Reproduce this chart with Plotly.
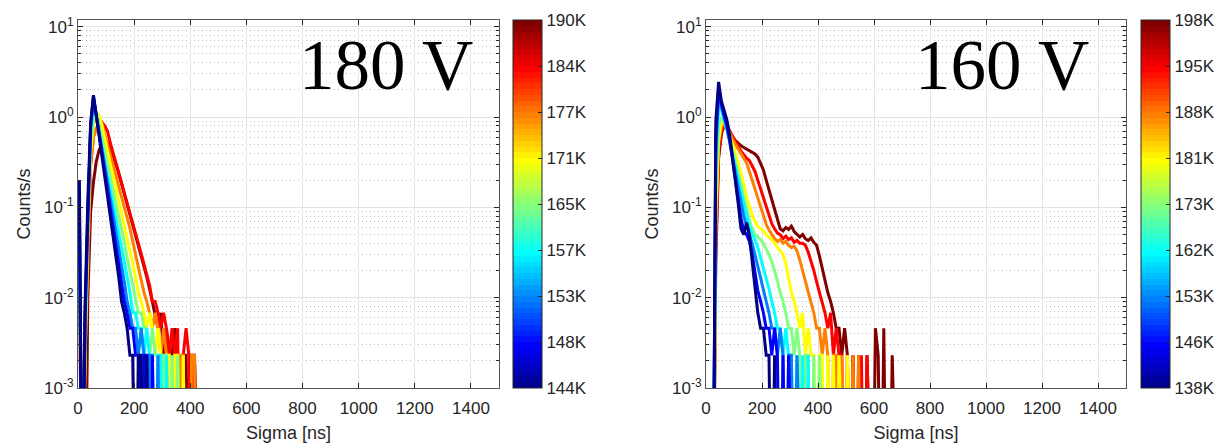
import numpy as np
import plotly.graph_objects as go

# ---------------------------------------------------------------------------
# Sigma histograms (counts/s per 10 ns bin), one curve per count rate.
# Bin k is centred at 5 + 10*k ns; bins not listed are empty.
# ---------------------------------------------------------------------------
BIN_WIDTH = 10.0
N_BINS = 150
sigma = np.arange(N_BINS) * BIN_WIDTH + BIN_WIDTH / 2

# ---- 180 V -----------------------------------------------------------------
rates_180 = ["144K", "148K", "153K", "157K", "165K", "171K", "177K", "184K", "190K"]

h180_144K = [0.2, 0, 0.008, 0.12, 0.85, 1.75, 1.05, 0.63, 0.37, 0.22, 0.134, 0.08, 0.048,
             0.029, 0.017, 0.0091, 0.0068, 0.0046, 0.0023, 0.0023, 0, 0.0023, 0.0023, 0, 0.0023]
h180_148K = [0.12, 0, 0.006, 0.1, 0.8, 1.7, 1.06, 0.67, 0.42, 0.26, 0.164, 0.103, 0.064, 0.04,
             0.025, 0.016, 0.0091, 0.0068, 0.0046, 0.0046, 0.0023, 0.0023, 0, 0.0023, 0.0023,
             0, 0.0023]
h180_153K = [0.09, 0, 0.005, 0.09, 0.75, 1.6, 1.05, 0.69, 0.455, 0.30, 0.197, 0.129, 0.085,
             0.056, 0.036, 0.023, 0.015, 0.0091, 0.0068, 0.0046, 0.0046, 0.0023, 0.0046,
             0.0023, 0, 0.0023, 0.0023, 0, 0.0023]
h180_157K = [0.07, 0, 0.004, 0.08, 0.65, 1.4, 0.98, 0.685, 0.48, 0.336, 0.235, 0.164, 0.115,
             0.08, 0.056, 0.038, 0.025, 0.017, 0.0114, 0.0068, 0.0068, 0.0046, 0.0046, 0.0023,
             0.0046, 0.0023, 0.0023, 0, 0.0023, 0.0023, 0, 0.0023]
h180_165K = [0.06, 0, 0.003, 0.06, 0.5, 1.0, 1.15, 0.83, 0.60, 0.43, 0.31, 0.223, 0.16, 0.115,
             0.083, 0.06, 0.041, 0.028, 0.0195, 0.0137, 0.0091, 0.0068, 0.0068, 0.0046, 0.0046,
             0.0023, 0.0046, 0.0023, 0.0023, 0, 0.0023, 0.0023, 0, 0.0023, 0, 0.0023]
h180_171K = [0.05, 0, 0.002, 0.05, 0.4, 0.85, 1.0, 1.05, 0.82, 0.566, 0.416, 0.305, 0.224,
             0.165, 0.121, 0.089, 0.065, 0.047, 0.034, 0.024, 0.017, 0.0114, 0.0091, 0.0068,
             0.0046, 0.0068, 0.0046, 0.0023, 0.0046, 0.0023, 0, 0.0023, 0.0023, 0, 0.0023,
             0.0023, 0, 0.0023]
h180_177K = [0.03, 0, 0.002, 0.03, 0.3, 0.6, 0.75, 0.84, 0.85, 0.65, 0.50, 0.38, 0.29, 0.224,
             0.171, 0.131, 0.10, 0.077, 0.059, 0.042, 0.030, 0.0216, 0.0154, 0.0114, 0.0091,
             0.0068, 0.0046, 0.0068, 0.0046, 0.0023, 0.0046, 0.0023, 0.0023, 0, 0.0023, 0,
             0.0023, 0.0023, 0, 0, 0.0023, 0.0023]
h180_184K = [0.02, 0, 0.002, 0.02, 0.3, 0.6, 0.75, 0.82, 0.88, 0.80, 0.70, 0.52, 0.40, 0.31,
             0.245, 0.19, 0.145, 0.112, 0.087, 0.067, 0.052, 0.04, 0.031, 0.024, 0.018, 0.0137,
             0.0091, 0.0091, 0.0068, 0.0046, 0.0068, 0.0046, 0.0023, 0.0046, 0.0023, 0.0046, 0,
             0.0023, 0.0046, 0.0023, 0, 0.0023]
h180_190K = [0.015, 0, 0, 0.01, 0.09, 0.19, 0.32, 0.43, 0.5, 0.53, 0.52, 0.46, 0.38, 0.3, 0.24,
             0.185, 0.14, 0.108, 0.083, 0.064, 0.049, 0.038, 0.03, 0.023, 0.017, 0.0125, 0.0091,
             0.0068, 0.0046, 0.0068, 0.0023, 0.0046, 0.0023, 0.0023, 0.0046, 0.0023, 0, 0.0023,
             0.0023, 0, 0.0023, 0.0023]

hist_180 = [h180_144K, h180_148K, h180_153K, h180_157K, h180_165K,
            h180_171K, h180_177K, h180_184K, h180_190K]

# ---- 160 V -----------------------------------------------------------------
rates_160 = ["138K", "146K", "153K", "162K", "173K", "181K", "188K", "195K", "198K"]

h160_138K = [0, 0, 0, 0.9, 2.45, 1.5, 1.15, 0.92, 0.62, 0.36, 0.2, 0.11, 0.058, 0.05, 0.068,
             0.05, 0.025, 0.0125, 0.0068, 0.0046, 0.0046, 0.0023, 0.0023, 0, 0.0023]
h160_146K = [0, 0, 0, 0.6, 2.1, 1.4, 1.05, 0.8, 0.55, 0.34, 0.2, 0.12, 0.075, 0.055, 0.05,
             0.042, 0.03, 0.019, 0.012, 0.0091, 0.0068, 0.0046, 0.0046, 0.0023, 0.0046, 0.0023,
             0, 0.0023, 0, 0.0023]
h160_153K = [0, 0, 0, 0.45, 1.7, 1.3, 1.0, 0.75, 0.52, 0.36, 0.24, 0.16, 0.11, 0.08, 0.062,
             0.05, 0.04, 0.03, 0.022, 0.016, 0.0114, 0.0091, 0.0068, 0.0046, 0.0046, 0.0023,
             0.0046, 0.0023, 0, 0.0023, 0.0023, 0, 0.0023]
h160_162K = [0, 0, 0, 0.3, 1.3, 1.2, 0.95, 0.72, 0.54, 0.4, 0.29, 0.21, 0.15, 0.11, 0.08, 0.062,
             0.05, 0.044, 0.036, 0.028, 0.021, 0.016, 0.0125, 0.0091, 0.0068, 0.0046, 0.0046,
             0.0023, 0.0046, 0.0023, 0.0023, 0, 0.0023, 0, 0.0023, 0, 0.0023]
h160_173K = [0, 0, 0, 0.15, 0.8, 1.0, 0.9, 0.72, 0.55, 0.42, 0.32, 0.24, 0.18, 0.13, 0.095,
             0.072, 0.058, 0.05, 0.047, 0.044, 0.04, 0.035, 0.03, 0.025, 0.02, 0.0155, 0.0114,
             0.0091, 0.0068, 0.0046, 0.0046, 0.0023, 0.0046, 0.0023, 0, 0.0023, 0.0023, 0,
             0.0023, 0, 0.0023]
h160_181K = [0, 0, 0, 0.087, 0.55, 0.9, 0.88, 0.76, 0.62, 0.5, 0.4, 0.31, 0.24, 0.18, 0.13, 0.1,
             0.082, 0.07, 0.062, 0.058, 0.055, 0.05, 0.047, 0.044, 0.04, 0.036, 0.033, 0.03,
             0.024, 0.017, 0.0114, 0.0091, 0.0068, 0.0046, 0.0068, 0.0023, 0.0046, 0.0023,
             0.0023, 0, 0.0023, 0.0023, 0, 0.0023, 0, 0.0023, 0, 0.0023, 0, 0, 0.0023]
h160_188K = [0, 0, 0, 0.06, 0.5, 0.78, 0.85, 0.78, 0.66, 0.57, 0.5, 0.44, 0.39, 0.35, 0.31, 0.25,
             0.2, 0.165, 0.13, 0.1, 0.08, 0.065, 0.056, 0.05, 0.045, 0.042, 0.044, 0.04, 0.042,
             0.038, 0.036, 0.037, 0.033, 0.026, 0.02, 0.015, 0.0114, 0.0091, 0.0068, 0.0046,
             0.0046, 0.0023, 0.0046, 0.0023, 0, 0.0023, 0.0023, 0, 0.0023, 0, 0.0023, 0,
             0.0023, 0, 0.0023]
h160_195K = [0, 0, 0, 0.04, 0.4, 0.7, 0.82, 0.8, 0.7, 0.6, 0.53, 0.47, 0.42, 0.38, 0.35, 0.33,
             0.29, 0.25, 0.2, 0.16, 0.125, 0.1, 0.08, 0.066, 0.058, 0.052, 0.05, 0.045, 0.048,
             0.044, 0.046, 0.041, 0.043, 0.04, 0.04, 0.038, 0.032, 0.026, 0.02, 0.015, 0.0114,
             0.0091, 0.0068, 0.0046, 0.0068, 0.0023, 0.0046, 0.0023, 0.0023, 0, 0.0023, 0,
             0.0023, 0, 0, 0.0023, 0, 0.0023]
h160_198K = [0, 0, 0, 0.026, 0.35, 0.65, 0.82, 0.78, 0.68, 0.6, 0.55, 0.51, 0.48, 0.46, 0.44,
             0.42, 0.41, 0.39, 0.36, 0.31, 0.26, 0.2, 0.155, 0.12, 0.09, 0.07, 0.058, 0.055,
             0.06, 0.057, 0.062, 0.054, 0.05, 0.047, 0.05, 0.045, 0.043, 0.046, 0.041, 0.038,
             0.029, 0.021, 0.015, 0.0114, 0.0091, 0.0068, 0.0046, 0.0046, 0.0023, 0.0046,
             0.0023, 0, 0.0023, 0, 0.0023, 0, 0, 0.0023, 0, 0, 0.0046, 0.0023, 0, 0.0046, 0, 0,
             0.0023]

hist_160 = [h160_138K, h160_146K, h160_153K, h160_162K, h160_173K,
            h160_181K, h160_188K, h160_195K, h160_198K]

panel_labels = ["180 V", "160 V"]

# ---------------------------------------------------------------------------
# Styling
# ---------------------------------------------------------------------------
W, H = 1226, 446
ZERO_FLOOR = 1e-5          # empty bins are drawn below the visible range
INK = "#262626"
FONT = "Liberation Sans, Arial, sans-serif"


def jet(t):
    r = np.clip(1.5 - abs(4 * t - 3), 0, 1)
    g = np.clip(1.5 - abs(4 * t - 2), 0, 1)
    b = np.clip(1.5 - abs(4 * t - 1), 0, 1)
    return "rgb(%d,%d,%d)" % (round(255 * r), round(255 * g), round(255 * b))


# 64-step jet colour map for the colour bars
jet64 = []
for k in range(64):
    c = jet((k + 1) / 64)
    jet64.append([k / 64, c])
    jet64.append([(k + 1) / 64, c])


def full_bins(values):
    out = np.zeros(N_BINS)
    out[:len(values)] = values
    return np.where(out > 0, out, ZERO_FLOOR)


# pixel geometry of the two panels
panels = [
    dict(x0=78, x1=499, cb=513),
    dict(x0=706, x1=1126, cb=1141),
]
Y_TOP, Y_BOT = 20, 388

fig = go.Figure()

for p, (hists, rates) in enumerate([(hist_180, rates_180), (hist_160, rates_160)]):
    xa = "x" if p == 0 else "x2"
    ya = "y" if p == 0 else "y2"
    cax = "coloraxis" if p == 0 else "coloraxis2"
    n = len(hists)
    # highest rate first so that the low-rate curves end up on top
    for i in reversed(range(n)):
        fig.add_trace(go.Scatter(
            x=sigma, y=full_bins(hists[i]), xaxis=xa, yaxis=ya,
            mode="lines+markers",
            line=dict(color=jet(i / (n - 1)), width=3),
            marker=dict(size=0, opacity=0, color=[i] * N_BINS, coloraxis=cax),
            hoverinfo="skip", showlegend=False,
        ))

decades = [1e-3, 1e-2, 1e-1, 1, 10]
decade_text = ["10<sup>-3</sup>", "10<sup>-2</sup>", "10<sup>-1</sup>",
               "10<sup>0</sup>", "10<sup>1</sup>"]
minor_vals = [m * d for d in decades[:-1] for m in range(2, 10)]

layout = dict(
    width=W, height=H, margin=dict(l=0, r=0, t=0, b=0, autoexpand=False),
    paper_bgcolor="white", plot_bgcolor="white", showlegend=False,
    font=dict(family=FONT, size=17, color=INK),
)

for p, geo in enumerate(panels):
    sx = "" if p == 0 else "2"
    layout["xaxis" + sx] = dict(
        domain=[geo["x0"] / W, geo["x1"] / W], range=[0, 1500], anchor="y" + sx,
        tickvals=list(range(0, 1500, 200)), ticks="inside", ticklen=5, tickcolor=INK,
        mirror="allticks", showline=True, linecolor="#555555", linewidth=1,
        showgrid=True, gridcolor="#e2e2e2", gridwidth=1, zeroline=False,
        automargin=False, ticklabelstandoff=5,
        tickfont=dict(size=17, color=INK),
        title=dict(text="Sigma [ns]", font=dict(size=18, color=INK), standoff=8),
    )
    layout["yaxis" + sx] = dict(
        domain=[1 - Y_BOT / H, 1 - Y_TOP / H], type="log", range=[-3, 1.075],
        anchor="x" + sx,
        tickvals=decades, ticktext=decade_text, ticks="inside", ticklen=5, tickcolor=INK,
        mirror="allticks", showline=True, linecolor="#555555", linewidth=1,
        showgrid=True, gridcolor="#e2e2e2", gridwidth=1, zeroline=False,
        automargin=False,
        tickfont=dict(size=17, color=INK),
        minor=dict(tickvals=minor_vals, ticks="inside", ticklen=3, tickcolor=INK,
                   showgrid=True, gridcolor="#bdbdbd", griddash="1px,3px", gridwidth=1),
        title=dict(text="Counts/s", font=dict(size=18, color=INK), standoff=8),
    )
    rates = rates_180 if p == 0 else rates_160
    layout["coloraxis" + sx] = dict(
        cmin=0, cmax=len(rates) - 1, colorscale=jet64, showscale=True,
        colorbar=dict(
            x=geo["cb"] / W, xanchor="left", xpad=0,
            y=1 - (Y_TOP + Y_BOT) / 2 / H, yanchor="middle", ypad=0,
            len=Y_BOT - Y_TOP, lenmode="pixels", thickness=29, thicknessmode="pixels",
            outlinewidth=1, outlinecolor=INK,
            tickvals=list(range(len(rates))), ticktext=rates,
            ticks="inside", ticklen=4, tickcolor=INK,
            tickfont=dict(size=17, color=INK, family=FONT),
        ),
    )

fig.update_layout(**layout)

# voltage label in the upper-right corner of each panel
for p, geo in enumerate(panels):
    fig.add_annotation(
        text=panel_labels[p], xref="paper", yref="paper",
        x=(geo["x1"] - 24 - (1 if p == 0 else 12)) / W, xanchor="right",
        y=1 - 25 / H, yanchor="top", showarrow=False, borderpad=0,
        font=dict(family="Liberation Serif, Times New Roman, serif", size=71, color="black"),
    )

fig.write_html("out.html")
